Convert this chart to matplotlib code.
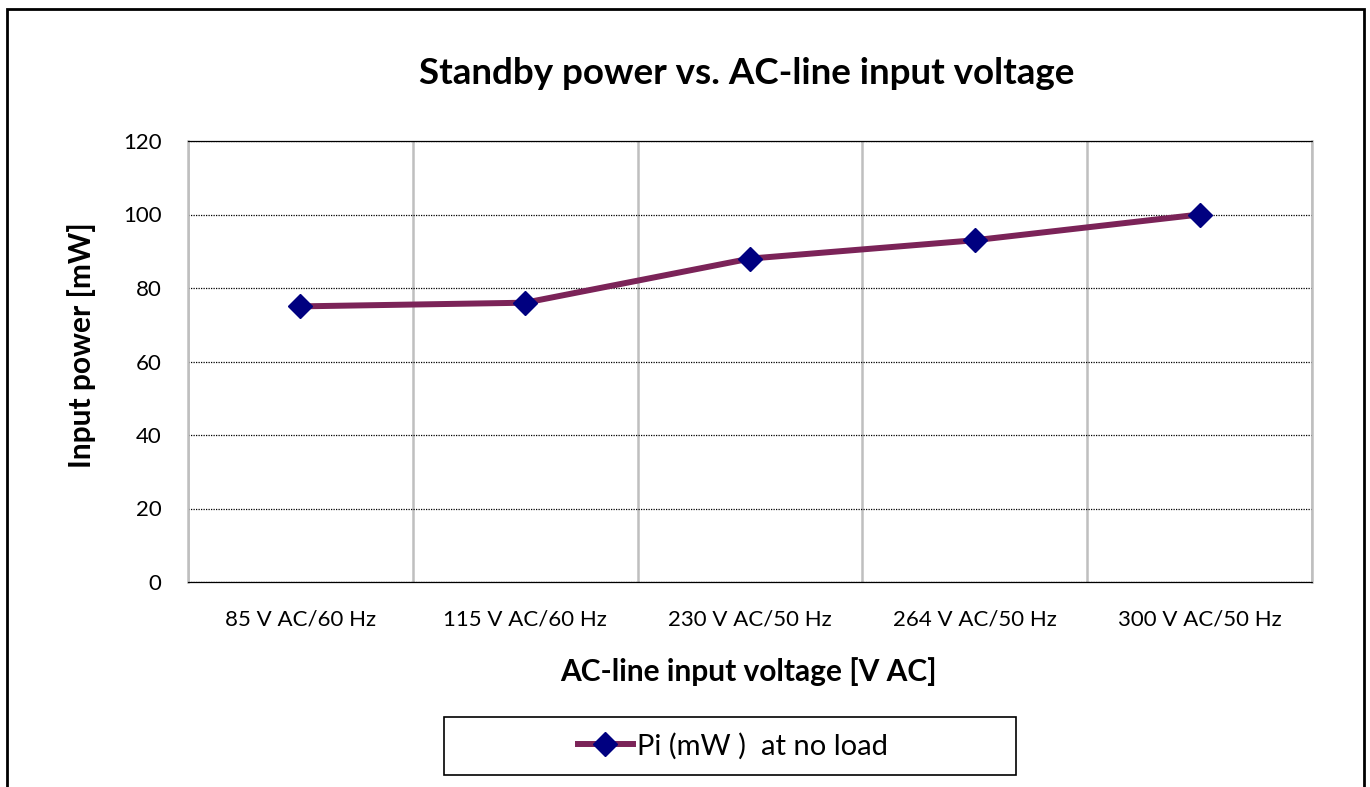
import matplotlib
matplotlib.use('Agg')
import matplotlib.pyplot as plt
from matplotlib.patches import Rectangle
from matplotlib.lines import Line2D

# Datos del gráfico
categorias = ['85 V AC/60 Hz', '115 V AC/60 Hz', '230 V AC/50 Hz', '264 V AC/50 Hz', '300 V AC/50 Hz']
potencia = [75, 76, 88, 93, 100]
y_ticks = [0, 20, 40, 60, 80, 100, 120]
serie_label = 'Pi (mW )  at no load'

plt.rcParams['font.family'] = ['Lato', 'DejaVu Sans']

W, H = 1370, 787
fig = plt.figure(figsize=(W / 100, H / 100), dpi=100)
ax = fig.add_axes([188 / W, 1 - 582 / H, 1124 / W, 441 / H])

x = list(range(len(categorias)))
linea_color = '#7b2358'
marker_color = '#000080'
ax.plot(x, potencia, color=linea_color, lw=4.3, marker='D', markersize=12,
        markerfacecolor=marker_color, markeredgecolor=marker_color, zorder=3)

# Ejes
ax.set_xlim(-0.5, len(categorias) - 0.5)
ax.set_ylim(0, 120)
ax.set_yticks(y_ticks)
ax.set_xticks(x)
ax.set_xticklabels(categorias)
ax.set_xticks([i - 0.5 for i in range(len(categorias) + 1)], minor=True)
ax.tick_params(axis='both', which='both', length=0)
ax.tick_params(axis='y', pad=19, labelsize=16)
ax.tick_params(axis='x', pad=20, labelsize=16)

# Grillas
ax.grid(True, axis='x', which='minor', color='#bfbfbf', lw=1.8)
ax.grid(True, axis='y', which='major', color='black', lw=0.9, linestyle=(0, (1, 1)))
ax.grid(False, axis='x', which='major')
ax.set_axisbelow(True)
for s in ['left', 'right']:
    ax.spines[s].set_color('#bfbfbf')
    ax.spines[s].set_linewidth(1.8)
for s in ['top', 'bottom']:
    ax.spines[s].set_color('black')
    ax.spines[s].set_linewidth(0.9)
    ax.spines[s].set_linestyle((0, (1, 1)))

# Textos
fig.text(747 / W, 1 - 73 / H, 'Standby power vs. AC-line input voltage',
         ha='center', va='center', fontsize=26.5, fontweight='bold')
fig.text(748 / W, 1 - 672 / H, 'AC-line input voltage [V AC]',
         ha='center', va='center', fontsize=21.5, fontweight='bold')
fig.text(82 / W, 1 - 345 / H, 'Input power [mW]', rotation=90,
         ha='center', va='center', fontsize=21.5, fontweight='bold')

# Leyenda
fig.add_artist(Rectangle((444 / W, 1 - 775 / H), 572 / W, 58 / H, transform=fig.transFigure,
                         fill=False, edgecolor='black', lw=1.2))
handle = Line2D([], [], color=linea_color, lw=4.3, marker='D', markersize=12,
                markerfacecolor=marker_color, markeredgecolor=marker_color)
fig.legend([handle], [serie_label], loc='center', bbox_to_anchor=(733 / W, 1 - 746 / H),
           frameon=False, fontsize=21, handlelength=1.9, handletextpad=0.15)

# Marco exterior
fig.add_artist(Rectangle((7 / W, -0.1), 1357 / W, 1.1 - 9 / H, transform=fig.transFigure,
                         fill=False, edgecolor='black', lw=2))

fig.savefig('out.png', dpi=100)
